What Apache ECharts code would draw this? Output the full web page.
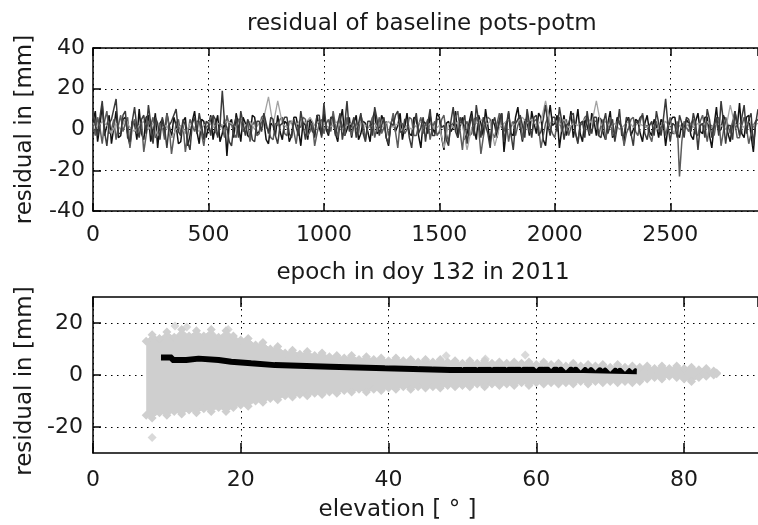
<!DOCTYPE html>
<html>
<head>
<meta charset="utf-8">
<script src="https://cdn.jsdelivr.net/npm/echarts@6.0.0/dist/echarts.min.js"></script>
<style>
  html, body { margin: 0; padding: 0; background: #fff; }
  #chart { width: 758px; height: 525px; }
</style>
</head>
<body>
<div id="chart"></div>
<script>
// dark tracks are sampled every 10 epochs, the light one every 20 (0 .. 2880)
const EPOCH_STEP = 10;
const LIGHT_STEP = 20;

// residuals [mm] of the satellite tracks
const resBlack = [
  4, 9, -6, 2, 12, -3, 2, 7, -7, 1,  9, -4, -3, 5, 6, -2, -8, 4, 3, -5,
  10, -2, -5, 6, 7, -6, 0, 8, -9, 3,  5, -3, 8, 2, -4, 6, 2, -7, -6, 4,
  6, -8, -3, 4, 9, -1, -7, 5, 4, -4,  1, 7, -5, 2, 7, -6, -2, 5, -13, 3,
  5, -4, 8, 2, -6, 6, 3, -3, -4, 7,  6, -2, -1, 5, 4, -5, -7, 3, 2, -3,
  7, -1, -5, 4, 3, -6, -3, 6, 6, 0,  -8, 4, 2, -5, 5, 3, -4, 7, 1, -3,
  8, 0, -3, 6, 5, -2, -6, 4, 10, -3,  0, 6, -4, 3, 7, -5, -2, 4, 3, -1,
  -6, 5, 9, -2, -1, 7, 4, -4, -8, 3,  6, -1, 2, 8, -5, 1, 8, -2, -3, 6,
  5, -3, -9, 4, 3, -2, 7, 1, -2, 8,  6, -4, -10, 3, 4, -1, 1, 9, -4, 2,
  6, -5, -2, 4, 9, 0, -5, 7, 3, -3,  10, 2, -7, 5, 2, -4, 5, 8, -11, 0,
  8, -2, -3, 6, 11, 1, -6, 5, 4, -3,  9, 3, -2, 8, 6, -5, -8, 4, 12, 2,
  3, 7, -9, 0, 7, -3, 1, 9, -4, 2,  10, -2, -6, 5, 2, -3, 8, 4, -3, 6,
  5, -2, -5, 3, 9, -4, -2, 6, 3, 1,  -7, 4, 6, -3, 0, 5, 4, -2, -6, 3,
  7, -1, -3, 5, 2, -4, 5, 3, -8, 1,  4, 6, 6, -2, -4, 3, 1, 5, 3, -3,
  -5, 4, 8, -1, -2, 6, 6, -3, -9, 2,  11, -1, 0, 7, 4, -2, -6, 3, 9, 1,
  13, -2, -4, 6, 7, -3, -11, 4, 5
];
const resDark = [
  8, 2, -3, 6, 14, -1, -8, 3, 5, 10,  15, -2, -2, 7, 9, -4, -6, 4, 11, 1,
  -4, 5, 7, -2, 12, 3, -7, 6, 3, -5,  6, 1, -9, 2, 4, 7, 10, -1, -3, 5,
  2, -6, -10, 3, 6, -2, 8, 2, -5, 4,  3, -3, 7, 5, -4, 2, 19, 3, 1, -6,
  -8, 2, 6, -4, 9, 3, -3, 5, 2, -5,  -6, 4, 4, -1, 8, 3, -2, 6, 5, -3,
  -7, 2, 3, 6, 6, -2, -4, 5, 1, -3,  9, 2, -5, 4, 4, -1, -2, 7, 7, -4,
  13, 1, -2, 6, 6, -3, 3, 8, -5, 2,  14, -1, 2, 6, -4, 3, 8, -2, -6, 4,
  4, -3, 11, 5, -3, 2, 6, -4, -7, 3,  2, 7, 9, -1, -2, 5, 5, -4, -9, 2,
  8, -2, 1, 6, -6, 3, 10, -3, -3, 5,  5, 1, 2, -5, -8, 4, 11, -1, -4, 6,
  3, 7, -7, 1, 7, -3, 12, 4, -4, 6,  2, -2, -9, 3, 6, -1, 4, 8, -6, 2,
  9, -2, -10, 3, 5, 7, 2, -4, 10, 3,  -4, 6, 7, -3, -1, 5, 12, 2, -3, 6,
  6, -1, 11, 4, -5, 2, 3, 7, 8, -2,  -7, 3, 4, -4, 9, 1, -2, 6, 6, -3,
  -4, 3, 8, -2, 2, 5, -6, 1, 10, -3,  -3, 6, 5, -2, -8, 4, 3, 6, 7, -2,
  -5, 2, 4, -3, 9, 3, -3, 5, 15, 2,  -6, 3, 2, -4, 7, 3, -4, 6, 5, -1,
  8, 3, -10, 2, 3, -4, 10, 5, -4, 2,  6, -3, 14, 4, -7, 2, 2, -5, 9, 3,
  -3, 6, 12, -2, 5, 8, -8, 3, 10
];
const resMid = [
  2, -3, 6, 1, -7, 4, 9, -2, 0, 5,  -5, 2, 7, -1, 3, 6, -9, 1, 5, -2,
  1, 4, -11, -3, 4, 2, 6, -4, -3, 3,  2, -5, 8, 1, -12, -4, 3, 5, -2, 2,
  -11, -3, 5, 2, -1, 4, 4, -2, -8, 1,  2, 6, 6, -1, -3, 3, 1, -4, 7, 2,
  3, -2, -4, 5, 5, -1, 1, 4, -6, 2,  4, -3, -2, 6, 7, 1, 0, -4, -5, 3,
  2, 5, 6, -2, -3, 4, 4, -1, -7, 2,  1, 6, 5, -3, -1, 3, -8, -2, 3, 5,
  -2, 3, 5, -1, 9, 2, -4, 5, 2, -3,  6, 1, -3, 4, 1, -2, 7, 3, -5, 1,
  2, 6, -4, 1, 6, -2, 1, 4, -3, 2,  8, -1, -9, 3, 3, -2, 0, 6, 5, -3,
  -3, 2, 6, -2, 2, 5, -5, 1, 4, -3,  -1, 5, 7, -2, -6, 2, 3, 6, 9, -1,
  -10, 2, 4, -3, -2, 5, 6, 1, -12, -4,  3, 6, 5, -2, -4, 3, 8, 1, -1, 4,
  -6, 1, 4, -3, 2, 5, -5, 2, 7, -1,  -2, 4, 5, 1, -9, -3, 3, 6, 1, -2,
  -4, 3, 6, -1, 2, 5, -3, 1, 5, -2,  -6, 2, 3, 6, 7, -2, -1, 4, 4, -3,
  2, 5, -5, 1, 6, -3, -2, 4, 4, 1,  -8, -2, 1, 5, 6, -1, -3, 4, 8, 1,
  2, -3, -6, 2, 4, -1, 1, 5, -3, 2,  6, -2, -2, 4, -23, -6, 4, 1, -1, 3,
  5, -2, -3, 4, 7, 1, -6, 2, 2, -3,  4, 6, -8, -1, 6, 2, -2, 4, 3, -4,
  -4, 2, 6, 1, -7, -2, 2, 4, 5
];
const resLight = [
  3, 1, 4, 2, -2, 3, 0, 5, 1, -1,
  2, 4, 0, 3, -3, 1, 2, -4, 0, 2,
  -2, 3, 1, -1, 2, 4, 1, 3, 2, 4,
  3, 1, 5, 2, 4, 0, 3, 6, 16, 2,
  14, 3, 1, 4, 2, 5, 3, 6, 2, 4,
  3, 1, 2, 4, 0, 2, 3, 1, 4, 2,
  1, 3, 0, 2, 4, 1, 3, -1, 2, 0,
  2, 4, 1, 3, 0, 2, -9, 3, 1, 4,
  2, -10, 1, 3, 5, 2, 4, -8, 1, 3,
  5, 2, 4, 6, 3, 5, 2, 4, 14, 3,
  4, 2, 5, 1, 3, 2, 4, 6, 3, 14,
  2, 4, 1, 3, 0, 2, 4, 1, 3, 2,
  1, 3, 0, 2, 4, 1, -2, 2, 0, 3,
  1, 3, 2, 4, 1, 3, 2, 0, 12, 2,
  3, 1, 4, 2, 3
];

// residual cloud vs elevation: upper / lower edge of the grey points
const cloudElev = [
  7.2, 8, 9, 10, 11, 12, 13, 14, 15, 16, 17, 18, 19, 20, 21, 22, 23, 24, 25, 26,
  27, 28, 29, 30, 31, 32, 33, 34, 35, 36, 37, 38, 39, 40, 41, 42, 43, 44, 45, 46,
  47, 48, 49, 50, 51, 52, 53, 54, 55, 56, 57, 58, 59, 60, 61, 62, 63, 64, 65, 66,
  67, 68, 69, 70, 71, 72, 73, 74, 75, 76, 77, 78, 79, 80, 81, 82, 83, 84, 84.4
];
const cloudUpper = [
  13, 15.5, 14, 16.5, 14.5, 17.5, 15, 17, 15, 17.5, 14.5, 17, 15, 13.5, 14, 11.5, 12.5, 10, 11, 8.5,
  9.5, 8, 9, 7.5, 8.5, 7, 7.5, 6.5, 7.5, 6, 7, 6, 6.5, 5.5, 6.5, 5.5, 6, 5, 6, 5,
  6, 5, 5.5, 4.5, 5.5, 4.5, 5.5, 4.5, 5, 4.5, 5, 4.5, 5, 4, 5, 4, 4.5, 3.5, 4.5, 3.5,
  4, 3.5, 4, 3, 4, 3, 3.5, 3, 3.5, 2.5, 3.5, 2.5, 3.5, 2.5, 3, 2, 2.5, 1.5, 0.8
];
const cloudLower = [
  -15.5, -16.5, -14.5, -15.5, -14, -15, -13.5, -14.5, -13, -14, -12.5, -14, -12.5, -11.5, -12, -10, -10.5, -9, -9.5, -8,
  -8.5, -7.5, -8, -7, -7.5, -6.5, -7, -6, -6.5, -5.5, -6.5, -5.5, -6, -5, -5.5, -4.5, -5.5, -4.5, -5, -4.5,
  -5, -4, -4.5, -4, -4.5, -3.5, -4.5, -3.5, -4, -3.5, -4, -3, -4, -3, -3.5, -3, -3.5, -3, -3.5, -2.5,
  -3.5, -2.5, -3, -2.5, -3, -2.5, -3, -2.5, -1.5, -1, -1.5, -0.5, -1, -1.5, -2.5, -1, -0.5, 0, 0.5
];
// single grey points outside the cloud
const outlierElev = [8.0, 11.1, 12.7, 18.3, 47.8, 53.1, 58.5];
const outlierRes = [-24, 18.8, 18.5, 17.5, 7.4, 6.2, 7.7];

// binned mean residual (black step line)
const meanElev = [9.2, 10.7, 12.6, 14.3, 17.0, 18.7, 21.4, 24.6, 32.1, 39.5, 48.4, 64.9, 73.6];
const meanRes = [6.7, 5.8, 6.3, 5.8, 5.1, 4.5, 3.8, 3.2, 2.6, 1.9, 2.0, 1.4, 1.4];

const FONT = 'DejaVu Sans';
const TXT = '#1a1a1a';
const CLOUD = '#cfcfcf';

function zip(xs, ys) {
  return xs.map((x, i) => [x, ys[i]]);
}
function epochSeries(vals, step) {
  return vals.map((v, i) => [i * step, v]);
}

const dotted = { show: true, lineStyle: { color: '#000', width: 1, type: [1.5, 4.5] } };
const frame = { show: true, onZero: false, lineStyle: { color: '#000', width: 1.5 } };
const labelStyle = { color: TXT, fontFamily: FONT, fontSize: 22, formatter: (v) => String(v) };
const nameStyle = { color: TXT, fontFamily: FONT, fontSize: 23 };

function bottomX(grid, max, interval, tickLen, margin, name, nameGap, namePad) {
  return {
    gridIndex: grid, type: 'value', position: 'bottom', min: 0, max: max, interval: interval,
    axisLine: frame,
    axisTick: { inside: true, length: tickLen, lineStyle: { color: '#000', width: 1.5 } },
    axisLabel: Object.assign({ margin: margin, showMaxLabel: false }, labelStyle),
    splitLine: dotted,
    name: name, nameLocation: 'middle', nameGap: nameGap,
    nameTextStyle: Object.assign({ padding: namePad }, nameStyle)
  };
}
function topX(grid, max, interval, tickLen) {
  return {
    gridIndex: grid, type: 'value', position: 'top', min: 0, max: max, interval: interval,
    axisLine: frame,
    axisTick: { inside: true, length: tickLen, lineStyle: { color: '#000', width: 1.5 } },
    axisLabel: { show: false },
    splitLine: { show: false }
  };
}

// drawing order: black, mid grey, light grey, dark grey on top
const tracks = [
  { vals: resBlack, step: EPOCH_STEP, color: '#111111', width: 1.5 },
  { vals: resMid, step: EPOCH_STEP, color: '#5c5c5c', width: 1.5 },
  { vals: resLight, step: LIGHT_STEP, color: '#a3a3a3', width: 1.3 },
  { vals: resDark, step: EPOCH_STEP, color: '#3a3a3a', width: 1.5 }
];

let topSeries = tracks.map((t) => ({
  type: 'line',
  xAxisIndex: 0, yAxisIndex: 0,
  data: epochSeries(t.vals, t.step),
  showSymbol: false,
  silent: true,
  lineStyle: { color: t.color, width: t.width }
}));

function cloudEdge(vals) {
  return {
    type: 'line',
    xAxisIndex: 2, yAxisIndex: 1,
    data: zip(cloudElev, vals),
    symbol: 'diamond', symbolSize: 9, showSymbol: true,
    silent: true,
    itemStyle: { color: CLOUD },
    lineStyle: { color: CLOUD, width: 1 },
    areaStyle: { color: CLOUD, opacity: 1 }
  };
}

const option = {
  animation: false,
  backgroundColor: '#fff',
  title: {
    text: 'residual of baseline pots-potm',
    left: 247, top: 13, padding: 0,
    textStyle: { color: TXT, fontFamily: FONT, fontSize: 23, fontWeight: 'normal' }
  },
  grid: [
    { left: 93, right: -7, top: 48, height: 163 },
    { left: 93, right: -7, top: 297, height: 156 }
  ],
  xAxis: [
    bottomX(0, 2880, 500, 8, 13, 'epoch in doy 132 in 2011', 51, [0, 5, 0, 0]),
    topX(0, 2880, 500, 8),
    bottomX(1, 90, 20, 10, 16, 'elevation [ ° ]', 46, [0, 56, 0, 0]),
    topX(1, 90, 20, 10)
  ],
  yAxis: [
    {
      gridIndex: 0, type: 'value', min: -40, max: 40, interval: 20,
      axisLine: frame,
      axisTick: { inside: true, length: 8, lineStyle: { color: '#000', width: 1.5 } },
      axisLabel: Object.assign({ margin: 8 }, labelStyle),
      splitLine: dotted,
      name: 'residual in [mm]', nameLocation: 'middle', nameGap: 56, nameRotate: 90,
      nameTextStyle: nameStyle
    },
    {
      gridIndex: 1, type: 'value', min: -30, max: 30,
      axisLine: frame,
      axisTick: { inside: true, length: 8, customValues: [-20, 0, 20], lineStyle: { color: '#000', width: 1.5 } },
      axisLabel: Object.assign({ margin: 10, customValues: [-20, 0, 20] }, labelStyle),
      splitLine: dotted,
      name: 'residual in [mm]', nameLocation: 'middle', nameGap: 56, nameRotate: 90,
      nameTextStyle: Object.assign({ padding: [0, 12, 0, 0] }, nameStyle)
    }
  ],
  series: topSeries.concat([
    cloudEdge(cloudUpper),
    cloudEdge(cloudLower),
    {
      type: 'scatter',
      xAxisIndex: 2, yAxisIndex: 1,
      data: zip(outlierElev, outlierRes),
      symbol: 'diamond', symbolSize: 9,
      silent: true,
      itemStyle: { color: CLOUD }
    },
    {
      type: 'line',
      xAxisIndex: 2, yAxisIndex: 1,
      data: zip(meanElev, meanRes),
      step: 'end',
      showSymbol: false,
      silent: true,
      lineStyle: { color: '#000', width: 6, cap: 'butt' }
    }
  ])
};

let myChart = echarts.init(document.getElementById('chart'));
myChart.setOption(option);
</script>
</body>
</html>
